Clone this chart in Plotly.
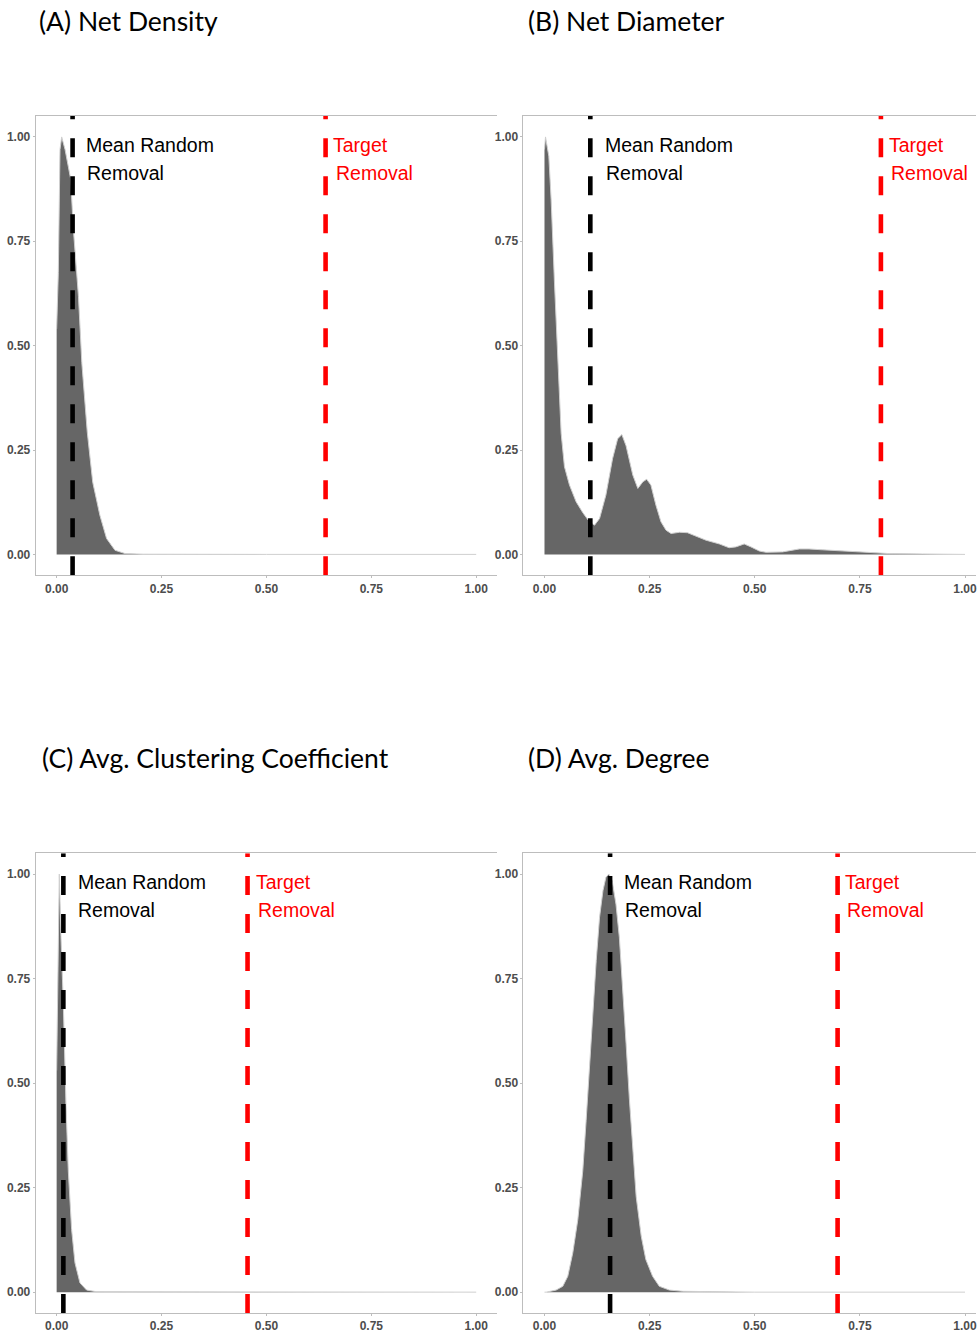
import plotly.graph_objects as go

# ---------------- data ----------------
titles = ["(A) Net Density", "(B) Net Diameter",
          "(C) Avg. Clustering Coefficient", "(D) Avg. Degree"]

tick_vals = [0, 0.25, 0.5, 0.75, 1.0]
tick_text = ["0.00", "0.25", "0.50", "0.75", "1.00"]

# scaled densities of random removal
density_a_x = [0.0, 0.004, 0.008, 0.012, 0.020, 0.0333, 0.040, 0.052, 0.060, 0.073,
               0.086, 0.103, 0.119, 0.139, 0.163, 0.206, 0.5, 1.0]
density_a_y = [0.54, 0.675, 0.97, 1.0, 0.97, 0.90, 0.777, 0.618, 0.459, 0.293,
               0.173, 0.094, 0.038, 0.010, 0.002, 0.0005, 0.0, 0.0]

density_b_x = [0.0, 0.0024, 0.0103, 0.0158, 0.0238, 0.0317, 0.0396, 0.0475, 0.0594,
               0.0752, 0.0911, 0.107, 0.119, 0.131, 0.146, 0.162, 0.174, 0.184,
               0.194, 0.210, 0.222, 0.234, 0.243, 0.253, 0.265, 0.277, 0.289,
               0.301, 0.321, 0.340, 0.360, 0.384, 0.416, 0.439, 0.455, 0.475,
               0.491, 0.511, 0.527, 0.566, 0.606, 0.629, 0.661, 0.701, 0.740,
               0.780, 0.819, 0.899, 1.0]
density_b_y = [0.97, 1.0, 0.954, 0.85, 0.65, 0.45, 0.29, 0.21, 0.166,
               0.126, 0.10, 0.078, 0.07, 0.086, 0.142, 0.23, 0.277, 0.287,
               0.26, 0.19, 0.158, 0.174, 0.18, 0.166, 0.118, 0.078, 0.058,
               0.05, 0.053, 0.052, 0.044, 0.034, 0.025, 0.016, 0.018, 0.025,
               0.018, 0.008, 0.005, 0.006, 0.013, 0.013, 0.011, 0.009, 0.007,
               0.005, 0.002, 0.001, 0.0]

density_c_x = [0.0, 0.004, 0.0063, 0.0103, 0.0159, 0.0222, 0.0278, 0.0357, 0.0437,
               0.0556, 0.0714, 0.095, 0.5, 1.0]
density_c_y = [0.53, 0.80, 1.0, 0.85, 0.69, 0.45, 0.29, 0.15, 0.07,
               0.022, 0.005, 0.001, 0.0, 0.0]

density_d_x = [0.0, 0.004, 0.0277, 0.0435, 0.0554, 0.0673, 0.0792, 0.091, 0.099,
               0.107, 0.115, 0.123, 0.131, 0.139, 0.146, 0.153, 0.161, 0.170,
               0.178, 0.186, 0.194, 0.202, 0.210, 0.218, 0.230, 0.241, 0.257,
               0.273, 0.297, 0.329, 0.5, 1.0]
density_d_y = [0.0, 0.0, 0.005, 0.014, 0.038, 0.094, 0.173, 0.29, 0.41,
               0.547, 0.674, 0.793, 0.897, 0.96, 0.992, 1.0, 0.984, 0.928,
               0.849, 0.73, 0.595, 0.46, 0.332, 0.229, 0.134, 0.078, 0.038,
               0.014, 0.005, 0.002, 0.0, 0.0]

mean_random = [0.038, 0.109, 0.016, 0.156]     # black dashed lines
target_removal = [0.641, 0.800, 0.455, 0.697]  # red dashed lines

densities_x = [density_a_x, density_b_x, density_c_x, density_d_x]
densities_y = [density_a_y, density_b_y, density_c_y, density_d_y]

# ---------------- layout geometry ----------------
W, H = 977, 1333
FILL = "#666666"
OUTLINE = "#cfcfcf"
FRAME = "#bdbdbd"
TICKFONT = dict(family="Liberation Sans, Arial, sans-serif", size=12, color="#4d4d4d",
                weight="bold")
ANNFONT = "Liberation Sans, Arial, sans-serif"

# pixel boxes of panels: (left, right, top, bottom), x-range max
panels = [
    (35.7, 497.7, 116.4, 577.0, 1.05),
    (524.0, 977.0, 116.4, 577.0, (977 - 545.0) / 421.0),
    (35.7, 497.7, 855.7, 1317.0, 1.05),
    (524.0, 977.0, 855.7, 1317.0, (977 - 545.0) / 421.0),
]
title_pos = [(37, 21), (527, 21), (40, 760), (527, 760)]

fig = go.Figure()
layout = dict(width=W, height=H, margin=dict(l=0, r=0, t=0, b=0),
              paper_bgcolor="white", plot_bgcolor="white", showlegend=False)

annotations = []
shapes = []

for i in range(4):
    left, right, top, bottom, xmax = panels[i]
    sfx = "" if i == 0 else str(i + 1)
    xa, ya = "xaxis" + sfx, "yaxis" + sfx
    xr, yr = "x" + sfx, "y" + sfx
    layout[xa] = dict(domain=[left / W, right / W], range=[-0.05, xmax], anchor=yr,
                      tickvals=tick_vals, ticktext=tick_text, tickfont=TICKFONT,
                      showline=True, linecolor=FRAME, linewidth=1, mirror=True,
                      ticks="outside", ticklen=2, tickcolor=FRAME,
                      ticklabeloverflow="allow",
                      showgrid=False, zeroline=False, fixedrange=True)
    layout[ya] = dict(domain=[(H - bottom) / H, (H - top) / H], range=[-0.05, 1.05], anchor=xr,
                      tickvals=tick_vals, ticktext=tick_text, tickfont=TICKFONT,
                      showline=True, linecolor=FRAME, linewidth=1, mirror=False,
                      ticks="outside", ticklen=2, tickcolor=FRAME,
                      showgrid=False, zeroline=False, fixedrange=True)

    fig.add_trace(go.Scatter(x=densities_x[i], y=densities_y[i], xaxis=xr, yaxis=yr,
                             mode="lines", fill="tozeroy", fillcolor=FILL,
                             line=dict(color=OUTLINE, width=1), hoverinfo="skip"))

    # dashed reference lines
    for xv, col in ((mean_random[i], "black"), (target_removal[i], "#ff0000")):
        shapes.append(dict(type="line", xref=xr, yref=yr, x0=xv, x1=xv, y0=-0.05, y1=1.05,
                           line=dict(color=col, width=4.6, dash="19px,19px"), layer="above"))

    # labels next to lines
    mx, tx = mean_random[i], target_removal[i]
    off_m = [0.028, 0.030, 0.029, 0.028][i]
    off_t = [0.014, 0.014, 0.015, 0.012][i]
    ytop = 0.980
    ybot = 0.914
    annotations += [
        dict(x=mx + off_m, y=ytop, xref=xr, yref=yr, text="Mean Random", showarrow=False,
             xanchor="left", yanchor="middle", font=dict(family=ANNFONT, size=19.5, color="black")),
        dict(x=mx + off_m + 0.002, y=ybot, xref=xr, yref=yr, text="Removal", showarrow=False,
             xanchor="left", yanchor="middle", font=dict(family=ANNFONT, size=19.5, color="black")),
        dict(x=tx + off_t, y=ytop, xref=xr, yref=yr, text="Target", showarrow=False,
             xanchor="left", yanchor="middle", font=dict(family=ANNFONT, size=19.5, color="#ff0000")),
        dict(x=tx + off_t + 0.005, y=ybot, xref=xr, yref=yr, text="Removal", showarrow=False,
             xanchor="left", yanchor="middle", font=dict(family=ANNFONT, size=19.5, color="#ff0000")),
    ]

    # panel title
    px, py = title_pos[i]
    annotations.append(dict(x=px / W, y=(H - py) / H, xref="paper", yref="paper",
                            text=titles[i], showarrow=False, xanchor="left", yanchor="middle",
                            font=dict(family="Lato, Open Sans, sans-serif", size=26.5, color="black")))

layout["annotations"] = annotations
layout["shapes"] = shapes
fig.update_layout(**layout)

fig.write_html("out.html", config={"displayModeBar": False},
               post_script="document.body.style.margin='0px';document.body.style.overflow='hidden';")
